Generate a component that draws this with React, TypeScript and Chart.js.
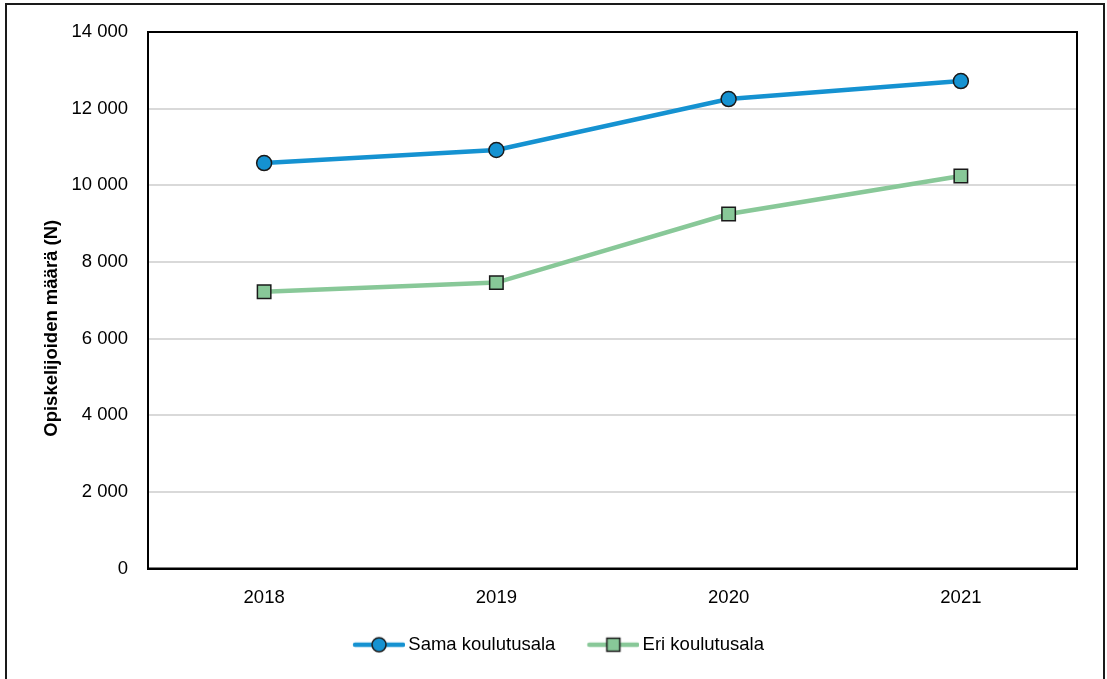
import React, { useEffect, useRef } from "react";
import { Chart, registerables } from "chart.js";

Chart.register(...registerables);

const years = ["2018", "2019", "2020", "2021"];
const samaValues = [10580, 10920, 12250, 12720];
const eriValues = [7220, 7460, 9250, 10240];
const seriesNames = ["Sama koulutusala", "Eri koulutusala"];
const yAxisTitle = "Opiskelijoiden määrä (N)";
const yMin = 0;
const yMax = 14000;
const yStep = 2000;

const BLUE = "#1592d1";
const GREEN = "#88c898";
const EDGE = "#1a1a1a";
const FONT = "'Liberation Sans', Arial, sans-serif";
const FS = 18.5;

function fmt(v: number): string {
  return String(v).replace(/\B(?=(\d{3})+(?!\d))/g, " ");
}

// legend icon: transparent left margin (spacing between items), then line with marker
function legendIcon(kind: "circle" | "square", color: string): HTMLCanvasElement {
  const c = document.createElement("canvas");
  c.width = 78;
  c.height = 18;
  const ctx = c.getContext("2d")!;
  const x0 = 26;
  const x1 = 78;
  const mid = (x0 + x1) / 2;
  ctx.strokeStyle = color;
  ctx.lineWidth = 4.5;
  ctx.lineCap = "round";
  ctx.beginPath();
  ctx.moveTo(x0 + 2, 9);
  ctx.lineTo(x1 - 2, 9);
  ctx.stroke();
  ctx.fillStyle = color;
  ctx.strokeStyle = EDGE;
  ctx.lineWidth = 1.5;
  if (kind === "circle") {
    ctx.beginPath();
    ctx.arc(mid, 9, 7, 0, Math.PI * 2);
    ctx.fill();
    ctx.stroke();
  } else {
    ctx.fillRect(mid - 6.5, 2.5, 13, 13);
    ctx.strokeRect(mid - 6.5, 2.5, 13, 13);
  }
  return c;
}

const plotBorder = {
  id: "plotBorder",
  afterDatasetsDraw(chart: any) {
    const { ctx, chartArea } = chart;
    ctx.save();
    ctx.strokeStyle = "#000";
    ctx.lineWidth = 2;
    ctx.strokeRect(chartArea.left, chartArea.top, chartArea.right - chartArea.left, chartArea.bottom - chartArea.top);
    ctx.restore();
  },
};

const yTitlePlugin = {
  id: "yTitle",
  afterDraw(chart: any) {
    const { ctx, chartArea } = chart;
    ctx.save();
    ctx.translate(52, (chartArea.top + chartArea.bottom) / 2 + 28);
    ctx.rotate(-Math.PI / 2);
    ctx.fillStyle = "#000";
    ctx.font = `bold ${FS}px ${FONT}`;
    ctx.textAlign = "center";
    ctx.textBaseline = "middle";
    ctx.fillText(yAxisTitle, 0, 0);
    ctx.restore();
  },
};

export default function App() {
  const ref = useRef<HTMLCanvasElement | null>(null);

  useEffect(() => {
    if (!ref.current) return;
    const icons = [legendIcon("circle", BLUE), legendIcon("square", GREEN)];
    const chart = new Chart(ref.current, {
      type: "line",
      data: {
        labels: years,
        datasets: [
          {
            label: seriesNames[0],
            data: samaValues,
            borderColor: BLUE,
            backgroundColor: BLUE,
            borderWidth: 4.5,
            pointStyle: "circle",
            pointRadius: 7.5,
            pointBorderWidth: 1.5,
            pointBorderColor: EDGE,
            pointBackgroundColor: BLUE,
            tension: 0,
          },
          {
            label: seriesNames[1],
            data: eriValues,
            borderColor: GREEN,
            backgroundColor: GREEN,
            borderWidth: 4.5,
            pointStyle: "rect",
            pointRadius: 9.5,
            pointBorderWidth: 1.5,
            pointBorderColor: EDGE,
            pointBackgroundColor: GREEN,
            tension: 0,
          },
        ],
      },
      options: {
        responsive: false,
        animation: false,
        devicePixelRatio: 1,
        layout: { padding: { left: 20, right: 30, top: 32, bottom: 15 } },
        plugins: {
          tooltip: { enabled: false },
          legend: {
            position: "bottom",
            labels: {
              usePointStyle: true,
              pointStyleWidth: 66,
              padding: 12,
              color: "#000",
              font: { family: FONT, size: FS },
              generateLabels: (chart: any) =>
                chart.data.datasets.map((ds: any, i: number) => ({
                  text: ds.label,
                  pointStyle: icons[i],
                  fillStyle: ds.borderColor,
                  strokeStyle: ds.borderColor,
                  lineWidth: 0,
                  hidden: false,
                  datasetIndex: i,
                  fontColor: "#000",
                })),
            },
          },
        },
        scales: {
          x: {
            offset: true,
            grid: { display: false, drawTicks: false },
            border: { display: true, color: "#000", width: 2 },
            ticks: { color: "#000", padding: 18, font: { family: FONT, size: FS } },
            afterFit: (scale: any) => {
              scale.height = 55;
            },
          },
          y: {
            min: yMin,
            max: yMax,
            grid: { color: "#d9d9d9", lineWidth: 2, drawTicks: false },
            border: { display: true, color: "#000", width: 2 },
            ticks: {
              stepSize: yStep,
              color: "#000",
              padding: 20,
              font: { family: FONT, size: FS },
              callback: (v: any) => fmt(Number(v)),
            },
            title: { display: false },
            afterFit: (scale: any) => {
              scale.width = 128;
            },
          },
        },
      },
      plugins: [plotBorder, yTitlePlugin],
    } as any);
    return () => chart.destroy();
  }, []);

  return (
    <div style={{ position: "fixed", left: 0, top: 0, width: 1107, height: 679, background: "#fff", overflow: "hidden" }}>
      <canvas ref={ref} width={1107} height={679} style={{ position: "absolute", left: 0, top: 0, width: 1107, height: 679 }} />
      <div
        style={{
          position: "absolute",
          left: 5,
          top: 3,
          width: 1100,
          height: 700,
          border: "2px solid #1a1a1a",
          boxSizing: "border-box",
          pointerEvents: "none",
        }}
      />
    </div>
  );
}
